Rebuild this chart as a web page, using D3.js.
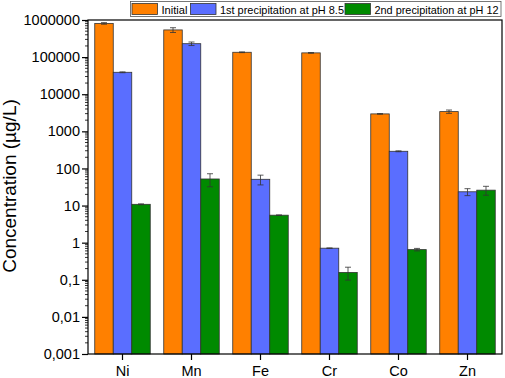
<!DOCTYPE html>
<html>
<head>
<meta charset="utf-8" />
<title></title>
<style>
    body { margin: 0; background: #fff; }
    svg { font-family: "Liberation Sans", Arial, sans-serif; }
    .bar { stroke: #333; stroke-width: 0.8px; }
    .err { stroke: #333; stroke-width: 0.8px; fill: none; }
</style>
</head>
<body>
<div id="container"></div>
<script src="https://cdnjs.cloudflare.com/ajax/libs/d3/7.8.5/d3.min.js"></script>
<script>
var width = 505,
    height = 378,
    margin = { left: 88, top: 20, right: 3, bottom: 24 };

// data
var metals = ["Ni", "Mn", "Fe", "Cr", "Co", "Zn"];
var seriesNames = ["Initial", "1st precipitation at pH 8.5", "2nd precipitation at pH 12"];
var colors = ["#ff8000", "#5a6eff", "#008a00"];
var initial = [810000, 540000, 135000, 130000, 2950, 3400];
var initialErr = [40000, 80000, 3000, 3000, 60, 350];
var firstPrec = [39000, 230000, 51, 0.71, 290, 23.5];
var firstErr = [1000, 25000, 15, 0.01, 8, 5];
var secondPrec = [10.8, 52, 5.5, 0.158, 0.65, 26];
var secondErr = [0.3, 20, 0.1, 0.06, 0.05, 7];
var tickVals = [0.001, 0.01, 0.1, 1, 10, 100, 1000, 10000, 100000, 1000000];
var tickLabels = ["0,001", "0,01", "0,1", "1", "10", "100", "1000", "10000", "100000", "1000000"];

var svg = d3.select("#container")
    .append("svg")
    .attr("width", width)
    .attr("height", height);

var x0 = d3.scaleBand()
    .domain(metals)
    .range([margin.left, width - margin.right])
    .paddingInner(0)
    .paddingOuter(0);

var x1 = d3.scaleBand()
    .domain([0, 1, 2])
    .range([0, 55.5]);

var y = d3.scaleLog()
    .domain([0.001, 1000000])
    .range([height - margin.bottom, margin.top]);

var allVals = [initial, firstPrec, secondPrec];
var allErr = [initialErr, firstErr, secondErr];

// bars
var groupOff = (x0.bandwidth() - 55.5) / 2;
allVals.forEach(function(vals, s) {
    svg.append("g").selectAll("rect")
        .data(vals)
        .enter()
        .append("rect")
        .attr("class", "bar")
        .attr("x", (d, i) => x0(metals[i]) + groupOff + x1(s))
        .attr("y", d => y(d))
        .attr("width", x1.bandwidth())
        .attr("height", d => y.range()[0] - y(d))
        .attr("fill", colors[s]);

    // error bars
    var eg = svg.append("g");
    vals.forEach(function(d, i) {
        var cx = x0(metals[i]) + groupOff + x1(s) + x1.bandwidth() / 2;
        var hi = y(d + allErr[s][i]), lo = y(Math.max(d - allErr[s][i], 0.001));
        eg.append("path")
            .attr("class", "err")
            .attr("d", "M" + (cx - 3) + "," + hi + "H" + (cx + 3) +
                "M" + cx + "," + hi + "V" + lo +
                "M" + (cx - 3) + "," + lo + "H" + (cx + 3));
    });
});

// frame
svg.append("rect")
    .attr("x", margin.left)
    .attr("y", margin.top)
    .attr("width", width - margin.left - margin.right)
    .attr("height", height - margin.top - margin.bottom)
    .attr("fill", "none")
    .attr("stroke", "#000")
    .attr("stroke-width", 1.2);

// y axis
var yAxis = d3.axisLeft(y)
    .tickValues(tickVals)
    .tickFormat((d, i) => tickLabels[i])
    .tickSize(6)
    .tickPadding(2);

var gy = svg.append("g")
    .attr("transform", "translate(" + margin.left + ",0)")
    .call(yAxis);
gy.select(".domain").remove();
gy.selectAll("text").attr("font-size", "14.5px").attr("fill", "#000")
    .attr("font-family", "Liberation Sans, Arial, sans-serif");
gy.selectAll(".tick line").attr("stroke-width", 1.2);

// minor ticks
var minor = [];
tickVals.slice(0, -1).forEach(function(t) {
    for (var k = 2; k <= 9; k++) minor.push(t * k);
});
svg.append("g").selectAll("line")
    .data(minor)
    .enter()
    .append("line")
    .attr("x1", margin.left - 3)
    .attr("x2", margin.left)
    .attr("y1", d => y(d))
    .attr("y2", d => y(d))
    .attr("stroke", "#000")
    .attr("stroke-width", 0.8);

// x axis
var xAxis = d3.axisBottom(x0).tickSize(6).tickPadding(6);
var gx = svg.append("g")
    .attr("transform", "translate(0," + (height - margin.bottom) + ")")
    .call(xAxis);
gx.select(".domain").remove();
gx.selectAll("text").attr("font-size", "14.5px").attr("fill", "#000")
    .attr("font-family", "Liberation Sans, Arial, sans-serif");
gx.selectAll(".tick line").attr("stroke-width", 1.2);

// y title
svg.append("text")
    .attr("transform", "translate(16,186) rotate(-90)")
    .attr("text-anchor", "middle")
    .attr("font-size", "19px")
    .text("Concentration (µg/L)");

// legend
var legend = svg.append("g");
legend.append("rect")
    .attr("x", 130.5)
    .attr("y", 1.5)
    .attr("width", 370.5)
    .attr("height", 15)
    .attr("fill", "#fff")
    .attr("stroke", "#555")
    .attr("stroke-width", 0.8);
var legX = [132, 190.5, 345];
var legW = [26, 124, 124];
seriesNames.forEach(function(name, s) {
    legend.append("rect")
        .attr("x", legX[s])
        .attr("y", 3.5)
        .attr("width", 25.5)
        .attr("height", 11)
        .attr("fill", colors[s])
        .attr("stroke", "#333")
        .attr("stroke-width", 0.8);
    legend.append("text")
        .attr("x", legX[s] + 29.5)
        .attr("y", 13.5)
        .attr("font-size", "11px")
        .attr("textLength", legW[s])
        .attr("lengthAdjust", "spacingAndGlyphs")
        .text(name);
});
</script>
</body>
</html>
